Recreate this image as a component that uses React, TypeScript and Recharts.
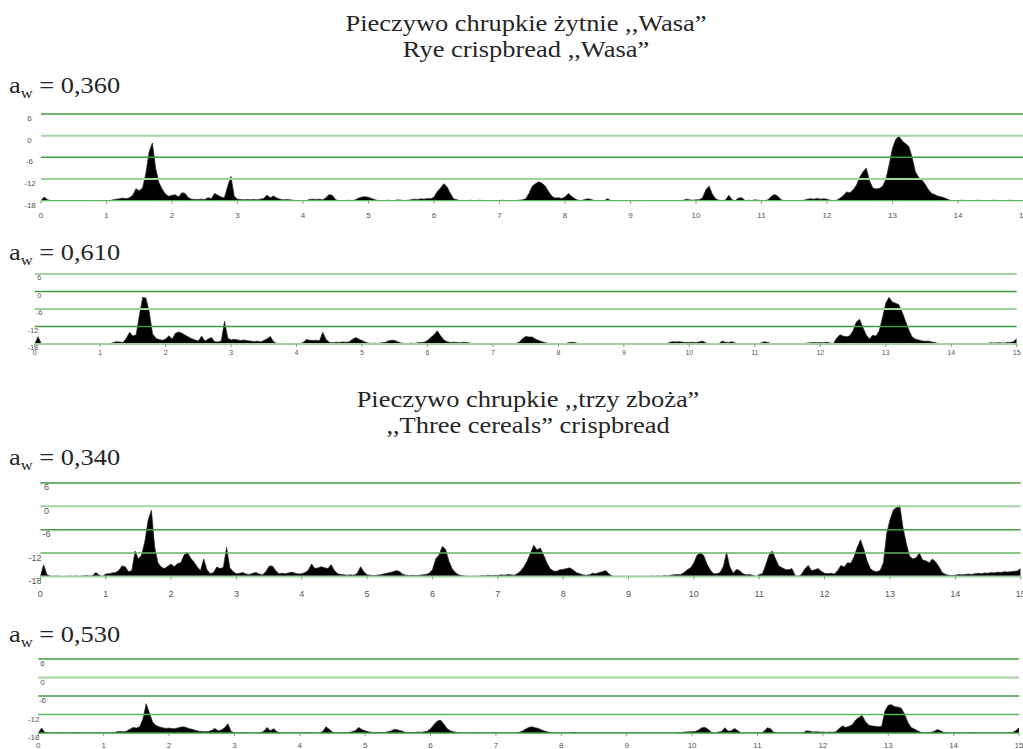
import React from "react";
import { AreaChart, Area, XAxis, YAxis, ReferenceLine } from "recharts";

// ---------- data ----------
const FREQ_STEP = 0.05; // kHz sampling grid 0..15
const FREQ: number[] = Array.from({ length: 301 }, (_, i) => Math.round(i * FREQ_STEP * 100) / 100);
const X_TICKS = [0, 1, 2, 3, 4, 5, 6, 7, 8, 9, 10, 11, 12, 13, 14, 15];
const Y_TICKS = [6, 0, -6, -12, -18];

const TITLE_1 = ["Pieczywo chrupkie żytnie ,,Wasa”", "Rye crispbread ,,Wasa”"];
const TITLE_2 = ["Pieczywo chrupkie ,,trzy zboża”", ",,Three cereals” crispbread"];
const AW_LABELS = ["0,360", "0,610", "0,340", "0,530"];

// dB levels, one row per kHz (20 samples each) + final sample at 15 kHz
const P360: number[] = [
  -18, -17, -17.8, -18, -18, -18, -18, -18, -18, -18, -18, -18, -18, -18, -18, -18, -18, -18, -18, -18,
  -18, -18, -17.8, -17.6, -17.5, -17.3, -17.5, -17.2, -16.5, -14.7, -15.3, -14.5, -10.5, -4.5, -2, -9, -13, -14.8, -16.2, -16.8,
  -16.5, -16.4, -17, -15.8, -16, -17.2, -17.6, -17.7, -17.7, -17.6, -17.7, -17.2, -17.5, -16, -16.5, -17, -17.2, -14, -11.3, -16.8,
  -17.6, -17.7, -17.8, -17.7, -17.8, -17.7, -17.8, -17.6, -17.4, -16.5, -17.2, -16.7, -17.3, -17.6, -17.8, -17.7, -17.8, -17.9, -18, -18,
  -18, -18, -17.7, -17.6, -17.7, -17.6, -17.8, -17.2, -16.3, -16.6, -17.8, -18, -18, -18, -17.9, -18, -17.8, -17.3, -17, -16.9,
  -17.1, -17.4, -17.8, -18, -18, -18, -17.9, -18, -18, -17.8, -17.9, -18, -17.9, -17.8, -17.6, -17.7, -17.5, -17.6, -17.4, -17.5,
  -17, -15.5, -14.5, -13.3, -14.2, -16, -17.5, -17.8, -18, -18, -18, -17.9, -18, -18, -17.9, -18, -18, -18, -18, -18,
  -18, -17.9, -18, -18, -18, -18, -17.9, -17.8, -17.5, -16, -14, -13.3, -12.8, -13.2, -14, -15.5, -16.8, -17.3, -17.2, -17.4,
  -17, -16, -16.8, -17.5, -17.9, -18, -17.7, -17.5, -17.7, -18, -18, -18, -18, -17.5, -18, -18, -18, -18, -18, -18,
  -18, -18, -18, -18, -18, -18, -18, -18, -18, -18, -18, -18, -18, -18, -18, -18, -18, -17.6, -17.8, -17.9,
  -17.8, -17.8, -17.2, -15, -14, -16.2, -17.5, -17.9, -18, -17.9, -16.5, -17.8, -18, -17.3, -17.2, -18, -17.9, -18, -17.8, -17.9,
  -18, -18, -17.8, -16.8, -16.3, -16.8, -17.8, -18, -18, -18, -18, -18, -18, -17.9, -17.6, -17.5, -17.6, -17.4, -17.6, -17.5,
  -17.6, -17.9, -18, -17.9, -17.3, -16.6, -15.6, -15.8, -15, -13.7, -11.5, -10, -9, -12.5, -14.5, -14.8, -14.6, -14, -12, -8,
  -3.5, -1, -0.2, -1.5, -2.2, -3, -6, -10, -11.6, -12.3, -13.5, -15, -16, -16.4, -16.8, -17, -17.3, -17.7, -18, -18,
  -18, -17.9, -18, -18, -18, -18, -17.9, -18, -18, -18, -18, -17.9, -18, -18, -18, -18, -17.9, -18, -18, -18,
  -18,
];

const P610: number[] = [
  -18, -15.5, -17.8, -18, -18, -18, -18, -18, -18, -17.8, -17.9, -18, -18, -18, -18, -18, -18, -18, -18, -18,
  -18, -18, -18, -17.9, -17.5, -17.2, -17.3, -17.5, -16, -14, -15.3, -14.8, -8, -2, -2.3, -7, -14.5, -16, -16.5, -16.7,
  -16.3, -15.2, -16.3, -14.3, -13.9, -14.3, -15, -15.6, -16.2, -16.6, -17, -15.3, -17, -16.3, -15.8, -17.2, -17.3, -17, -10.2, -16,
  -16.6, -16.4, -16.6, -16.8, -16.6, -16.9, -17, -17.2, -17, -17.3, -16.8, -16.2, -15.4, -17.3, -17.8, -17.8, -17.9, -17.8, -17.9, -18,
  -18, -17.9, -17.5, -16.5, -16.7, -16.8, -16.7, -16.9, -14, -16.5, -17.4, -17.6, -17.4, -17.5, -17.3, -17.4, -17.3, -16.5, -15.8, -16.3,
  -16.8, -17.4, -17.7, -17.8, -17.7, -17.8, -17.6, -17.5, -17, -16.7, -16.8, -17.3, -17.7, -17.8, -17.9, -17.7, -17.8, -17.6, -17.5, -17.4,
  -16.8, -15.8, -14.8, -13.5, -15.2, -16.6, -17.2, -17.5, -17.4, -17.5, -17.6, -17.4, -17.5, -17.7, -17.9, -18, -17.9, -18, -17.9, -18,
  -18, -17.9, -18, -17.9, -18, -17.9, -17.9, -17.8, -17.4, -16.2, -15.4, -15.6, -15.6, -16.3, -16.8, -17.2, -17.6, -17.8, -17.9, -18,
  -17.9, -18, -17.9, -17.6, -17.4, -17.5, -17.8, -18, -17.9, -18, -18, -17.9, -18, -18, -18, -17.9, -18, -18, -18, -18,
  -18, -18, -18, -18, -18, -18, -18, -17.9, -18, -18, -17.9, -18, -18, -18, -17.4, -17.2, -17.3, -17.2, -17.4, -17.5,
  -17.5, -17.4, -17.5, -17.3, -17, -17.6, -18, -18, -18, -17.9, -17, -17.4, -17.5, -17.2, -17.7, -18, -18, -18, -18, -18,
  -18, -18, -17.6, -17.2, -17.5, -17.8, -18, -17.9, -17.9, -18, -18, -18, -18, -18, -18, -17.8, -17.7, -17.6, -17.5, -17.6,
  -17.5, -17.6, -17.4, -17.7, -17.8, -16, -14.8, -15.3, -15.5, -15.2, -13.5, -10.5, -9.5, -12.3, -14.8, -16.3, -15, -15.3, -13.5, -9,
  -4, -2, -3.6, -4, -4.5, -7, -10, -13, -15.5, -16.3, -16.6, -16.9, -17.1, -17, -17.3, -17.5, -17.8, -17.9, -18, -18,
  -18, -18, -18, -18, -18, -17.9, -18, -18, -18, -18, -17.9, -17.8, -17.6, -17.7, -17.6, -17.6, -17.7, -17.5, -17.5, -17.2,
  -16.2,
];

const P340: number[] = [
  -18, -15, -17.5, -17.9, -18, -17.9, -18, -18, -18, -17.9, -18, -17.9, -18, -17.9, -17.8, -17.9, -17.8, -17, -17.7, -18,
  -17.4, -17.3, -17.1, -17, -16.5, -15.3, -15.5, -16.8, -16.5, -11.5, -13.5, -12.5, -9, -3.5, -1, -10.5, -14.5, -15.6, -16, -15.4,
  -14.8, -15.5, -14.7, -14.5, -12.5, -11.8, -13.3, -14.3, -15.5, -16.5, -13.5, -16.3, -17.3, -17, -15.6, -16, -15.7, -10.5, -15.8, -16.8,
  -17.3, -17.2, -17, -17.4, -17.5, -17.2, -17, -17.4, -17.6, -16.8, -15.4, -15.3, -16.5, -17.3, -17.2, -17.3, -17.1, -16.9, -17.2, -17.4,
  -17.3, -17, -16.4, -14.8, -16, -15.8, -15.5, -15.8, -16, -15, -16.5, -17.3, -17.5, -17.6, -17.7, -17.6, -17.7, -17.2, -15.5, -16.8,
  -17.6, -17.7, -17.8, -17.7, -17.6, -17.4, -17.2, -17, -16.8, -16.5, -16.8, -17.5, -17.7, -17.8, -17.7, -17.8, -17.7, -17.6, -17.5, -17.2,
  -16.3, -13.5, -12.5, -10.3, -11, -14, -16, -17, -17.6, -17.8, -17.9, -18, -18, -17.9, -18, -17.8, -17.9, -17.7, -17.8, -17.7,
  -17.8, -17.6, -17.7, -17.5, -17.6, -17.7, -17.3, -16.6, -15.5, -14, -12, -10, -11.2, -10.7, -12.5, -14.5, -16, -16.6, -16.7, -16.3,
  -16.2, -16, -15.8, -16.3, -17, -17.3, -17.6, -17.7, -17.6, -17.2, -17.3, -17, -16.8, -16.5, -17.3, -17.9, -18, -18, -18, -18,
  -18, -18, -18, -18, -18, -18, -18, -17.9, -18, -17.9, -18, -17.8, -17.9, -17.7, -17.6, -17.5, -17.5, -17, -16.3, -15.8,
  -14.5, -12.5, -12, -12.6, -14.8, -16.3, -17.3, -17.3, -17, -15.5, -11.8, -15.5, -17.2, -16.2, -16.5, -17.3, -17.6, -17.5, -17.7, -18,
  -17.5, -17.3, -15, -12.5, -11.5, -13.5, -15.3, -15.8, -16.2, -16.3, -16, -17.8, -18, -17.4, -16, -15.2, -16.5, -16.3, -16, -16.7,
  -17.2, -17.3, -17.2, -17.4, -16.5, -15.2, -15.6, -14.5, -14.6, -13, -10.5, -8.6, -11, -14, -16, -16.6, -16.8, -16.5, -14.5, -7,
  -3.5, -1, -0.2, 0.3, -5.5, -9.5, -12.8, -13.5, -13.2, -12, -13.8, -14, -14.5, -13.5, -14.3, -15.5, -17, -17.5, -17.7, -17.8,
  -17.7, -17.5, -17.6, -17.5, -17.4, -17.5, -17.3, -17.2, -17.3, -17.1, -17.2, -17, -17.1, -16.9, -17, -16.8, -16.9, -16.8, -16.7, -16.6,
  -16,
];

const P530: number[] = [
  -18, -16.4, -17.8, -18, -18, -18, -17.9, -18, -18, -18, -18, -18, -17.9, -18, -18, -18, -18, -18, -18, -18,
  -18, -18, -17.9, -18, -17.6, -17.5, -17.6, -17.4, -16.8, -16.2, -16.4, -16, -13.5, -8.5, -11.5, -14.5, -15.6, -16, -16.3, -16.5,
  -16.4, -16.6, -16.5, -16.3, -16, -16.1, -16.5, -16.8, -17.1, -17.4, -17.5, -17.6, -17.5, -17.2, -16.5, -17.3, -17, -16.3, -15, -17.5,
  -17.9, -18, -18, -17.9, -18, -18, -18, -18, -17.9, -17.4, -16.2, -17.3, -16.6, -17.6, -17.9, -18, -18, -18, -18, -18,
  -18, -18, -17.9, -18, -18, -18, -18, -17.5, -16, -16.8, -17.7, -18, -17.9, -18, -17.9, -17.8, -17.6, -17.2, -16.2, -16.9,
  -17.3, -17.6, -17.8, -17.9, -17.8, -17.9, -17.8, -17.6, -17.3, -16.8, -17, -17.3, -17.7, -17.9, -17.8, -17.9, -17.7, -17.8, -17.6, -17.4,
  -16.6, -15.3, -14.2, -13.8, -15, -16.5, -17.3, -17.6, -17.8, -17.9, -18, -18, -18, -17.9, -18, -18, -18, -18, -18, -18,
  -18, -18, -18, -18, -18, -18, -18, -17.8, -17.4, -16.8, -16.2, -16, -16.3, -16.5, -17, -17.4, -17.7, -17.9, -18, -18,
  -18, -18, -18, -17.9, -17.8, -18, -18, -18, -18, -18, -18, -18, -18, -18, -18, -18, -18, -18, -18, -18,
  -18, -18, -18, -18, -18, -18, -18, -18, -18, -18, -18, -18, -18, -18, -18, -18, -17.9, -17.8, -17.7, -17.6,
  -17.6, -17.5, -17, -16.3, -16.2, -16.9, -17.8, -18, -17.7, -17.5, -16.3, -17.4, -17.3, -16.5, -17.3, -18, -18, -18, -18, -18,
  -18, -18, -17.5, -16.3, -16.6, -17.8, -18, -18, -18, -18, -18, -18, -18, -18, -17.9, -17.3, -17.4, -17.7, -17.6, -17.7,
  -17.7, -17.8, -17.7, -17.8, -17.6, -16.5, -15.7, -16.2, -15.8, -15.3, -13.8, -13, -12.3, -14.3, -15.4, -15.7, -15.8, -16, -15.8, -10.8,
  -9, -8.8, -9.5, -9.6, -10, -11.8, -14.5, -16.2, -16.7, -17.3, -17.8, -17.9, -17.9, -17.8, -17.5, -16.9, -17.3, -17.8, -18, -18,
  -18, -18, -18, -18, -18, -18, -17.9, -18, -18, -18, -18, -18, -18, -18, -18, -18, -18, -17.9, -17.8, -17.3,
  -16.3,
];

// ---------- styling ----------
const DARK = "#3f9c3f";
const LIGHT = "#a2d4a2";
const MID = "#62b562";

type PanelCfg = {
  series: number[];
  x0: number;
  x15: number;
  yTop: number;
  yBot: number;
  xLab: number;
  xFont: number;
  yFont: number;
  yShort: number;
  yLong: number;
  yOff: number;
  colors: string[];
};

const PANELS: PanelCfg[] = [
  { series: P360, x0: 41, x15: 1023.5, yTop: 113.7, yBot: 200.3, xLab: 14.7, xFont: 8, yFont: 8, yShort: 29.5, yLong: 30, yOff: 4.5, colors: [DARK, LIGHT, DARK, LIGHT, MID] },
  { series: P610, x0: 34.7, x15: 1016.7, yTop: 273.7, yBot: 343.7, xLab: 9, xFont: 7, yFont: 7, yShort: 39.3, yLong: 33, yOff: 4, colors: [LIGHT, DARK, LIGHT, DARK, LIGHT] },
  { series: P340, x0: 40.3, x15: 1020.7, yTop: 483.3, yBot: 576.7, xLab: 17.3, xFont: 9, yFont: 9, yShort: 46.5, yLong: 35, yOff: 4.5, colors: [DARK, LIGHT, DARK, MID, LIGHT] },
  { series: P530, x0: 38.3, x15: 1019, yTop: 659.3, yBot: 733.3, xLab: 12.4, xFont: 8, yFont: 8, yShort: 42.5, yLong: 33.7, yOff: 4.7, colors: [DARK, LIGHT, DARK, MID, DARK] },
];

const AW_BASELINES = [93.3, 260, 465, 641.7];

const MT = 12;
const XH = 30;
const MR = 30;
const SERIF = "'Liberation Serif', 'Times New Roman', serif";
const SANS = "'Liberation Sans', Arial, sans-serif";

function Panel({ cfg }: { cfg: PanelCfg }) {
  const data = FREQ.map((f, i) => ({ f, v: cfg.series[i] }));
  const plotH = cfg.yBot - cfg.yTop;
  const width = cfg.x15 + MR;
  const height = MT + plotH + XH;
  const xTick = (p: any) => (
    <text
      x={p.x}
      y={p.y - 3 + cfg.xLab}
      textAnchor="middle"
      dominantBaseline="central"
      fontSize={cfg.xFont}
      style={{ fontFamily: SANS }}
      fill="#555"
    >
      {p.payload.value}
    </text>
  );
  const yTick = (p: any) => {
    const s = String(p.payload.value);
    const cx = s.length >= 3 ? cfg.yLong : cfg.yShort;
    return (
      <text
        x={cx}
        y={p.y + cfg.yOff}
        textAnchor="middle"
        dominantBaseline="central"
        fontSize={cfg.yFont}
        style={{ fontFamily: SANS }}
        fill="#555"
      >
        {s}
      </text>
    );
  };
  return (
    <div style={{ position: "absolute", left: 0, top: cfg.yTop - MT, width, height }}>
      <AreaChart width={width} height={height} data={data} margin={{ top: MT, right: MR, bottom: 0, left: 0 }}>
        <XAxis
          dataKey="f"
          type="number"
          domain={[0, 15]}
          ticks={X_TICKS}
          interval={0}
          allowDataOverflow
          axisLine={false}
          tickLine={{ stroke: MID, strokeWidth: 1 }}
          tickSize={3}
          tickMargin={0}
          height={XH}
          tick={xTick}
        />
        <YAxis
          type="number"
          domain={[-18, 6]}
          ticks={Y_TICKS}
          interval={0}
          allowDataOverflow
          axisLine={false}
          tickLine={false}
          width={cfg.x0}
          tick={yTick}
        />
        {Y_TICKS.map((y, i) => (
          <ReferenceLine
            key={y}
            y={y}
            stroke={cfg.colors[i]}
            strokeWidth={cfg.colors[i] === LIGHT ? 2 : 1.4}
            ifOverflow="visible"
          />
        ))}
        <Area
          type="linear"
          dataKey="v"
          baseValue={-18}
          stroke="#2a2a2a"
          strokeWidth={0.7}
          fill="#000"
          fillOpacity={1}
          dot={false}
          activeDot={false}
          isAnimationActive={false}
        />
      </AreaChart>
    </div>
  );
}

function Title({ x, y, text }: { x: number; y: number; text: string }) {
  return (
    <text transform={`translate(${x},${y}) scale(1.15,1)`} x={0} y={0} textAnchor="middle">
      {text}
    </text>
  );
}

export default function App() {
  return (
    <div
      style={{
        position: "absolute",
        left: 0,
        top: 0,
        width: 1023,
        height: 749,
        overflow: "hidden",
        background: "#fff",
      }}
    >
      {PANELS.map((cfg, i) => (
        <Panel key={i} cfg={cfg} />
      ))}
      <svg width={1023} height={749} style={{ position: "absolute", left: 0, top: 0, pointerEvents: "none" }}>
        <g style={{ fontFamily: SERIF }} fill="#262626">
          <g fontSize={23}>
            <Title x={526} y={31} text={TITLE_1[0]} />
            <Title x={526} y={57} text={TITLE_1[1]} />
            <Title x={528} y={407} text={TITLE_2[0]} />
            <Title x={528} y={433} text={TITLE_2[1]} />
          </g>
          <g fontSize={24}>
            {AW_LABELS.map((v, i) => (
              <text key={v} transform={`translate(9,${AW_BASELINES[i]}) scale(1.1,1)`} x={0} y={0}>
                a
                <tspan fontSize={15} dy={5}>w</tspan>
                <tspan dy={-5}>{" = " + v}</tspan>
              </text>
            ))}
          </g>
        </g>
      </svg>
    </div>
  );
}
